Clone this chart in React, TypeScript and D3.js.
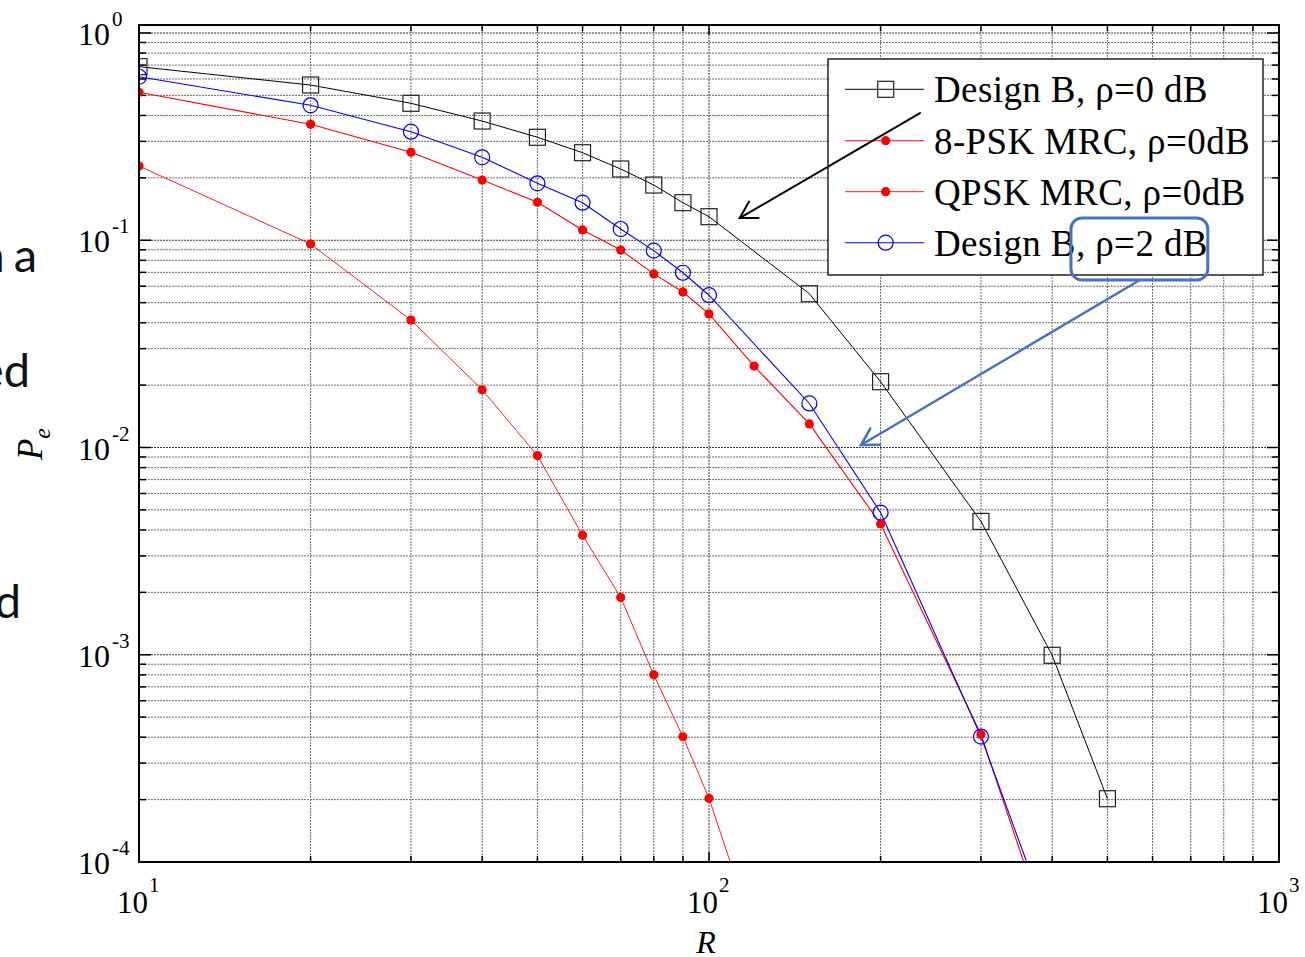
import React from "react";
import * as d3 from "d3";

// ---------- data ----------
const R_DESIGN_B_0 = [10, 20, 30, 40, 50, 60, 70, 80, 90, 100, 150, 200, 300, 400, 500];
const PE_DESIGN_B_0 = [0.688, 0.561, 0.458, 0.376, 0.314, 0.2645, 0.2207, 0.1847, 0.1518, 0.1299, 0.0552, 0.02077, 0.0044, 0.000994, 0.000202];

const R_8PSK = [10, 20, 30, 40, 50, 60, 70, 80, 90, 100, 120, 150, 200, 300, 400];
const PE_8PSK = [0.5175, 0.3627, 0.2657, 0.1953, 0.1525, 0.1121, 0.0897, 0.0688, 0.0563, 0.0441, 0.0247, 0.013, 0.004275, 0.000412, 0.000039];

const R_QPSK = [10, 20, 30, 40, 50, 60, 70, 80, 90, 100, 120];
const PE_QPSK = [0.228, 0.0959, 0.0412, 0.019, 0.00914, 0.00377, 0.00189, 0.0008, 0.000402, 0.000203, 0.000045];

const R_DESIGN_B_2 = [10, 20, 30, 40, 50, 60, 70, 80, 90, 100, 150, 200, 300, 400];
const PE_DESIGN_B_2 = [0.615, 0.448, 0.334, 0.2513, 0.1883, 0.1518, 0.1133, 0.0891, 0.0697, 0.0543, 0.01631, 0.00485, 0.000403, 0.000046];

const LEGEND_LABELS = ["Design B, ρ=0 dB", "8-PSK MRC, ρ=0dB", "QPSK MRC, ρ=0dB", "Design B, ρ=2 dB"];
const X_TICK_EXP = [1, 2, 3];
const Y_TICK_EXP = [0, -1, -2, -3, -4];

// annotations in data coordinates [R, Pe]
const BLACK_ARROW = { from: [234.5, 0.411], to: [113.2, 0.128] };
const BLUE_ARROW = { from: [570, 0.0643], to: [184.8, 0.01028] };
const HIGHLIGHT_BOX = { r0: 431.5, r1: 750, p0: 0.128, p1: 0.0643 };

const SIDE_TEXT = ["n a", "ed", "d"];

// ---------- layout ----------
const W = 1305;
const H = 957;
const L = 139, Rt = 1279, T = 25, B = 862;

const x = d3.scaleLog().domain([10, 1000]).range([L, Rt]);
const y = d3.scaleLog().domain([1e-4, 1.093]).range([B, T]);

const SERIF = "'Liberation Serif', 'Times New Roman', serif";

type Series = { r: number[]; p: number[]; color: string; marker: "square" | "dot" | "circle"; width: number };
const SERIES: Series[] = [
  { r: R_DESIGN_B_0, p: PE_DESIGN_B_0, color: "#000000", marker: "square", width: 1 },
  { r: R_8PSK, p: PE_8PSK, color: "#ff0000", marker: "dot", width: 1.1 },
  { r: R_QPSK, p: PE_QPSK, color: "#ff0000", marker: "dot", width: 0.9 },
  { r: R_DESIGN_B_2, p: PE_DESIGN_B_2, color: "#0000ff", marker: "circle", width: 1.1 },
];

function Marker({ kind, cx, cy, color }: { kind: string; cx: number; cy: number; color: string }) {
  if (kind === "square")
    return <rect x={cx - 8} y={cy - 8} width={16} height={16} fill="none" stroke="#222" strokeWidth={1.2} />;
  if (kind === "circle") return <circle cx={cx} cy={cy} r={7.5} fill="none" stroke={color} strokeWidth={1.2} />;
  return <circle cx={cx} cy={cy} r={4.6} fill={color} stroke="none" />;
}

function Arrow({ from, to, color, width }: { from: number[]; to: number[]; color: string; width: number }) {
  const x1 = x(from[0]), y1 = y(from[1]), x2 = x(to[0]), y2 = y(to[1]);
  const ang = Math.atan2(y1 - y2, x1 - x2);
  const len = 19;
  const a1 = ang + Math.PI / 6, a2 = ang - Math.PI / 6;
  return (
    <g stroke={color} strokeWidth={width} fill="none" strokeLinecap="round">
      <line x1={x1} y1={y1} x2={x2} y2={y2} />
      <polyline
        points={`${x2 + len * Math.cos(a1)},${y2 + len * Math.sin(a1)} ${x2},${y2} ${x2 + len * Math.cos(a2)},${y2 + len * Math.sin(a2)}`}
      />
    </g>
  );
}

export default function App() {
  const xMinor: number[] = [];
  [10, 100].forEach((d) => { for (let k = 1; k <= 9; k++) xMinor.push(d * k); });
  xMinor.push(1000);
  const yMinor: number[] = [];
  [1e-4, 1e-3, 1e-2, 1e-1].forEach((d) => { for (let k = 1; k <= 9; k++) yMinor.push(d * k); });
  yMinor.push(1);
  const isMajor = (v: number) => Math.abs(Math.log10(v) - Math.round(Math.log10(v))) < 1e-6;

  const line = d3.line<[number, number]>().x((d) => x(d[0])).y((d) => y(d[1]));

  const legendRows = [89.3, 140.7, 191.7, 242.7];

  return (
    <svg width={W} height={H} style={{ position: "absolute", left: 0, top: 0, background: "#fff" }} fontFamily={SERIF}>
      <defs>
        <clipPath id="plot">
          <rect x={L} y={T} width={Rt - L} height={B - T} />
        </clipPath>
      </defs>
      <rect x={0} y={0} width={W} height={H} fill="#fff" />

      {/* cut-off slide text on the left */}
      <g fontFamily="Lato, 'Open Sans', sans-serif" fontSize={47} fill="#111" textAnchor="end">
        <text x={37} y={272} wordSpacing={-3}>{SIDE_TEXT[0]}</text>
        <text x={30} y={387}>{SIDE_TEXT[1]}</text>
        <text x={21} y={618}>{SIDE_TEXT[2]}</text>
      </g>

      {/* grid */}
      <g>
        {xMinor.map((v, i) => (
          <line key={"gx" + i} x1={x(v)} x2={x(v)} y1={T} y2={B}
            stroke={isMajor(v) ? "#3a3a3a" : "#6e6e6e"} strokeWidth={1} strokeDasharray="2,1" />
        ))}
        {yMinor.map((v, i) => (
          <line key={"gy" + i} x1={L} x2={Rt} y1={y(v)} y2={y(v)}
            stroke={isMajor(v) ? "#3a3a3a" : "#6e6e6e"} strokeWidth={1} strokeDasharray="2,1" />
        ))}
      </g>

      {/* ticks */}
      <g stroke="#000" strokeWidth={1.5}>
        {xMinor.map((v, i) => {
          const len = isMajor(v) ? 10 : 6;
          return (
            <g key={"tx" + i}>
              <line x1={x(v)} x2={x(v)} y1={B} y2={B - len} />
              <line x1={x(v)} x2={x(v)} y1={T} y2={T + len} />
            </g>
          );
        })}
        {yMinor.map((v, i) => {
          const len = isMajor(v) ? 12 : 7;
          return (
            <g key={"ty" + i}>
              <line x1={L} x2={L + len} y1={y(v)} y2={y(v)} />
              <line x1={Rt} x2={Rt - len} y1={y(v)} y2={y(v)} />
            </g>
          );
        })}
      </g>

      {/* series */}
      <g clipPath="url(#plot)">
        {SERIES.map((s, i) => (
          <path key={"s" + i} d={line(s.r.map((r, j) => [r, s.p[j]] as [number, number])) || ""}
            fill="none" stroke={s.color} strokeWidth={s.width} />
        ))}
        {SERIES.map((s, i) => (
          <g key={"m" + i}>
            {s.r.map((r, j) =>
              s.p[j] >= 1e-4 ? <Marker key={j} kind={s.marker} cx={x(r)} cy={y(s.p[j])} color={s.color} /> : null
            )}
          </g>
        ))}
      </g>

      {/* axes box */}
      <rect x={L} y={T} width={Rt - L} height={B - T} fill="none" stroke="#000" strokeWidth={2} />

      {/* tick labels */}
      <g fill="#000">
        {Y_TICK_EXP.map((e) => {
          const yy = y(Math.pow(10, e));
          return (
            <g key={"yl" + e}>
              <text x={110} y={yy + 12} fontSize={32} textAnchor="end">10</text>
              <text x={112} y={yy - 7} fontSize={21}>{String(e)}</text>
            </g>
          );
        })}
        {X_TICK_EXP.map((e) => {
          const xx = x(Math.pow(10, e));
          return (
            <g key={"xl" + e}>
              <text x={xx + 9} y={913} fontSize={31} textAnchor="end">10</text>
              <text x={xx + 10} y={892} fontSize={21}>{String(e)}</text>
            </g>
          );
        })}
      </g>

      {/* axis labels */}
      <text x={706} y={953} fontSize={32} fontStyle="italic" textAnchor="middle">R</text>
      <g transform="translate(42,444) rotate(-90)">
        <text x={0} y={0} fontSize={35} fontStyle="italic" textAnchor="middle">
          P<tspan fontSize={24} dy={8}>e</tspan>
        </text>
      </g>

      {/* legend */}
      <g>
        <rect x={828} y={59} width={435} height={216} fill="#fff" stroke="#000" strokeWidth={1.3} />
        {SERIES.map((s, i) => (
          <g key={"lg" + i}>
            <line x1={845} x2={924} y1={legendRows[i]} y2={legendRows[i]} stroke={s.color} strokeWidth={s.width} />
            <Marker kind={s.marker} cx={885.7} cy={legendRows[i]} color={s.color} />
            <text x={934} y={legendRows[i] + 13} fontSize={37} letterSpacing={0.4} fill="#000">{LEGEND_LABELS[i]}</text>
          </g>
        ))}
      </g>

      {/* annotations */}
      <Arrow from={BLACK_ARROW.from} to={BLACK_ARROW.to} color="#000" width={2} />
      <Arrow from={BLUE_ARROW.from} to={BLUE_ARROW.to} color="#4472C4" width={2.5} />
      <rect x={x(HIGHLIGHT_BOX.r0)} y={y(HIGHLIGHT_BOX.p0)}
        width={x(HIGHLIGHT_BOX.r1) - x(HIGHLIGHT_BOX.r0)} height={y(HIGHLIGHT_BOX.p1) - y(HIGHLIGHT_BOX.p0)}
        rx={11} fill="none" stroke="#4472C4" strokeWidth={3} />
    </svg>
  );
}
